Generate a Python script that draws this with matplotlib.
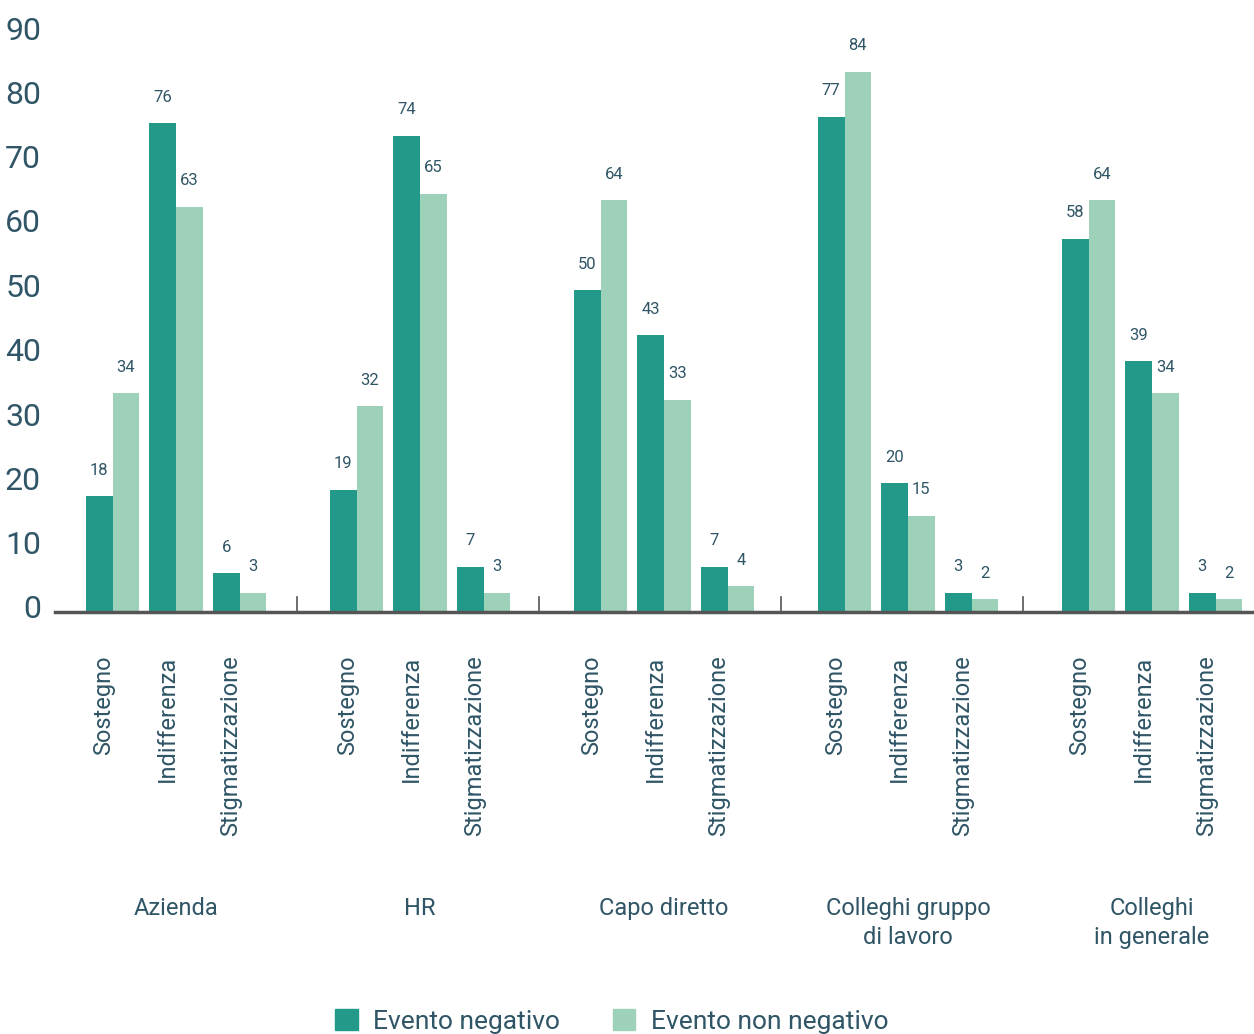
import numpy as np
import matplotlib.pyplot as plt
from matplotlib.patches import Patch
import matplotlib.transforms as mtransforms

# ---------------------------
# Data
# ---------------------------
GROUPS = ["Azienda", "HR", "Capo diretto", "Colleghi gruppo\ndi lavoro", "Colleghi\nin generale"]
CATEGORIES = ["Sostegno", "Indifferenza", "Stigmatizzazione"]
NEGATIVO = [[18, 76, 6], [19, 74, 7], [50, 43, 7], [77, 20, 3], [58, 39, 3]]
NON_NEGATIVO = [[34, 63, 3], [32, 65, 3], [64, 33, 4], [84, 15, 2], [64, 34, 2]]
Y_TICKS = [0, 10, 20, 30, 40, 50, 60, 70, 80, 90]

DARK = "#23998a"
LIGHT = "#9dd1b9"
TEXT = "#2f5566"

plt.rcParams['font.family'] = ['Roboto', 'DejaVu Sans']

# ---------------------------
# Plot
# ---------------------------
W, H = 1254, 1034
fig = plt.figure(figsize=(W / 100, H / 100), dpi=100)
ax = fig.add_axes([55 / W, (H - 612) / H, 1 - 55 / W, (612 - 33) / H])

unit = 63.5          # px per category slot
group_w = 244 / unit  # spacing of group centres
sep_w = 242 / unit    # spacing of the small separator ticks
first = 121 / unit    # first group centre
width = 0.42

for g in range(len(GROUPS)):
    gc = first + group_w * g
    centers = gc + np.array([-1, 0, 1])
    neg = NEGATIVO[g]
    non = NON_NEGATIVO[g]
    b1 = ax.bar(centers - width / 2, neg, width, color=DARK)
    b2 = ax.bar(centers + width / 2, non, width, color=LIGHT)
    for bar in list(b1) + list(b2):
        h = bar.get_height()
        ax.annotate(f"{h:.0f}", (bar.get_x() + bar.get_width() / 2, h),
                    xytext=(0, 26), textcoords="offset pixels",
                    ha="center", va="center", fontsize=12, color=TEXT)
    for c, cat in zip(centers, CATEGORIES):
        ax.text(c - 0.14, -0.075, cat, transform=ax.get_xaxis_transform(),
                rotation=90, ha="center", va="top", fontsize=17,
                color=TEXT)
    ax.text(gc, -0.493, GROUPS[g], transform=ax.get_xaxis_transform(),
            ha="center", va="top", fontsize=17,
            color=TEXT, linespacing=1.3)
    if g > 0:
        ax.plot([sep_w * g] * 2, [0, 2.3], color="#555555", lw=1.2, clip_on=False)

ax.set_xlim(0, (W - 55) / unit)
ax.set_ylim(0, 90)
ax.set_yticks(Y_TICKS)
ax.tick_params(axis="y", length=0, labelsize=23, labelcolor=TEXT, pad=10)
offset = mtransforms.ScaledTranslation(0, 5 / 100, fig.dpi_scale_trans)
for lab in ax.get_yticklabels():
    lab.set_transform(lab.get_transform() + offset)
ax.set_xticks([])
for s in ["top", "right", "left"]:
    ax.spines[s].set_visible(False)
ax.spines["bottom"].set_color("#555555")
ax.spines["bottom"].set_linewidth(2.5)

handles = [Patch(color=DARK, label="Evento negativo"), Patch(color=LIGHT, label="Evento non negativo")]
fig.legend(handles=handles, loc="center", bbox_to_anchor=(0.488, 0.012), ncol=2,
           frameon=False, fontsize=19, handlelength=0.85, handleheight=0.85,
           columnspacing=2.0, handletextpad=0.6, labelcolor=TEXT)

fig.savefig("out.png", dpi=100)
